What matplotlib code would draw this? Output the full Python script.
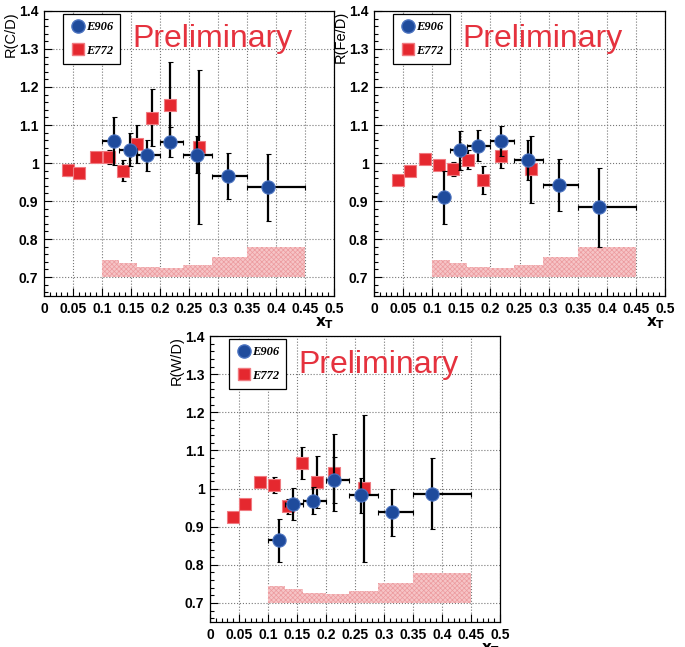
import matplotlib
matplotlib.use('Agg')
import matplotlib.pyplot as plt
from matplotlib.ticker import MultipleLocator, FuncFormatter
from matplotlib.lines import Line2D

plt.rcParams['font.family'] = ['Liberation Sans', 'DejaVu Sans']
plt.rcParams['hatch.linewidth'] = 0.5

# ---- data ----
bin_edges = [0.10, 0.13, 0.16, 0.20, 0.24, 0.29, 0.35, 0.45]
sys_top = [0.745, 0.736, 0.726, 0.724, 0.732, 0.752, 0.778]

# C/D
e906_x_C = [0.1207, 0.148, 0.178, 0.217, 0.264, 0.317, 0.386]
e906_y_C = [1.058, 1.035, 1.020, 1.055, 1.022, 0.965, 0.936]
e906_err_C = [0.062, 0.044, 0.040, 0.040, 0.048, 0.061, 0.089]
e772_x_C = [0.041, 0.061, 0.089, 0.112, 0.136, 0.161, 0.187, 0.217, 0.268]
e772_y_C = [0.982, 0.975, 1.017, 1.015, 0.980, 1.050, 1.119, 1.153, 1.043]
e772_err_C = [0.015, 0.008, 0.008, 0.018, 0.027, 0.050, 0.075, 0.112, 0.203]

# Fe/D
e906_x_Fe = [0.120, 0.1485, 0.178, 0.218, 0.264, 0.318, 0.386]
e906_y_Fe = [0.910, 1.033, 1.046, 1.058, 1.008, 0.943, 0.883]
e906_err_Fe = [0.070, 0.052, 0.042, 0.040, 0.052, 0.068, 0.105]
e772_x_Fe = [0.041, 0.0625, 0.087, 0.111, 0.136, 0.162, 0.187, 0.219, 0.270]
e772_y_Fe = [0.954, 0.978, 1.010, 0.994, 0.984, 1.008, 0.956, 1.019, 0.984]
e772_err_Fe = [0.008, 0.008, 0.008, 0.008, 0.018, 0.025, 0.037, 0.033, 0.088]

# W/D
e906_x_W = [0.1195, 0.1437, 0.177, 0.214, 0.260, 0.314, 0.383]
e906_y_W = [0.864, 0.960, 0.968, 1.022, 0.982, 0.938, 0.986]
e906_err_W = [0.057, 0.042, 0.036, 0.060, 0.046, 0.062, 0.093]
e772_x_W = [0.039, 0.061, 0.086, 0.110, 0.135, 0.159, 0.184, 0.214, 0.266]
e772_y_W = [0.925, 0.960, 1.018, 1.009, 0.953, 1.066, 1.018, 1.042, 1.001]
e772_err_W = [0.008, 0.008, 0.008, 0.021, 0.020, 0.042, 0.068, 0.100, 0.193]

BLUE = '#1f4b9c'
RED = '#e5282f'


def fmt(v, pos):
    return '%g' % round(v, 3)


def draw_panel(ax, ylab, x906, y906, e906, x772, y772, e772):
    ax.set_xlim(0, 0.5)
    ax.set_ylim(0.65, 1.4)
    ax.stairs(sys_top, bin_edges, baseline=0.7, fill=True,
              facecolor='#f6c4c6', edgecolor='#ec9a9e', hatch='xxxxxxx',
              linewidth=0, zorder=1)
    xlo = [x - lo for x, lo in zip(x906, bin_edges[:-1])]
    xhi = [hi - x for x, hi in zip(x906, bin_edges[1:])]
    ax.errorbar(x772, y772, yerr=e772, fmt='s', color=RED, mec='#f07a80',
                mew=0.8, ms=8.5, ecolor='black', elinewidth=1.6, capsize=1.8,
                capthick=1.2, zorder=3)
    ax.errorbar(x906, y906, xerr=[xlo, xhi], yerr=e906, fmt='o', color=BLUE,
                mec='#4a72c0', mew=0.8, ms=9.5, ecolor='black', elinewidth=1.6,
                capsize=1.8, capthick=1.2, zorder=4)

    ax.xaxis.set_major_locator(MultipleLocator(0.05))
    ax.xaxis.set_minor_locator(MultipleLocator(0.01))
    ax.yaxis.set_major_locator(MultipleLocator(0.1))
    ax.yaxis.set_minor_locator(MultipleLocator(0.02))
    ax.xaxis.set_major_formatter(FuncFormatter(fmt))
    ax.yaxis.set_major_formatter(FuncFormatter(fmt))
    ax.tick_params(which='both', direction='in', top=False, right=False,
                   width=0.8)
    ax.tick_params(which='major', length=6, labelsize=10, pad=4)
    ax.tick_params(which='minor', length=3)
    for lab in ax.get_xticklabels() + ax.get_yticklabels():
        lab.set_fontweight('bold')
    ax.grid(True, which='major', linestyle=':', color='#777777', linewidth=0.8)
    ax.set_axisbelow(True)
    for sp in ax.spines.values():
        sp.set_linewidth(0.9)

    ax.set_ylabel(ylab, loc='top', fontsize=10.5, labelpad=1)
    ax.set_xlabel(r'$\mathbf{x_T}$', loc='right', fontsize=11, labelpad=0)

    ax.text(0.305, 0.872, 'Preliminary', transform=ax.transAxes,
            color='#e5323e', fontsize=23, ha='left', va='baseline')

    handles = [Line2D([], [], marker='o', ls='', color=BLUE, mec='#4a72c0',
                      ms=9.5),
               Line2D([], [], marker='s', ls='', color=RED, mec='#f07a80',
                      ms=8.5)]
    leg = ax.legend(handles, ['E906', 'E772'], loc='upper left',
                    bbox_to_anchor=(0.066, 0.99), fancybox=False,
                    framealpha=1, edgecolor='black', handletextpad=0.0,
                    handlelength=1.2, borderpad=0.6, labelspacing=0.9,
                    borderaxespad=0,
                    prop={'family': 'Liberation Serif', 'style': 'italic',
                          'weight': 'bold', 'size': 9})
    leg.get_frame().set_linewidth(0.9)
    leg.set_zorder(5)


fig = plt.figure(figsize=(6.85, 6.47), dpi=100)
ax1 = fig.add_axes([0.0642, 0.5425, 0.4234, 0.4405])
ax2 = fig.add_axes([0.546, 0.5425, 0.4248, 0.4405])
ax3 = fig.add_axes([0.3066, 0.0386, 0.4234, 0.442])

draw_panel(ax1, 'R(C/D)', e906_x_C, e906_y_C, e906_err_C,
           e772_x_C, e772_y_C, e772_err_C)
draw_panel(ax2, 'R(Fe/D)', e906_x_Fe, e906_y_Fe, e906_err_Fe,
           e772_x_Fe, e772_y_Fe, e772_err_Fe)
draw_panel(ax3, 'R(W/D)', e906_x_W, e906_y_W, e906_err_W,
           e772_x_W, e772_y_W, e772_err_W)

fig.savefig('out.png', dpi=100)
